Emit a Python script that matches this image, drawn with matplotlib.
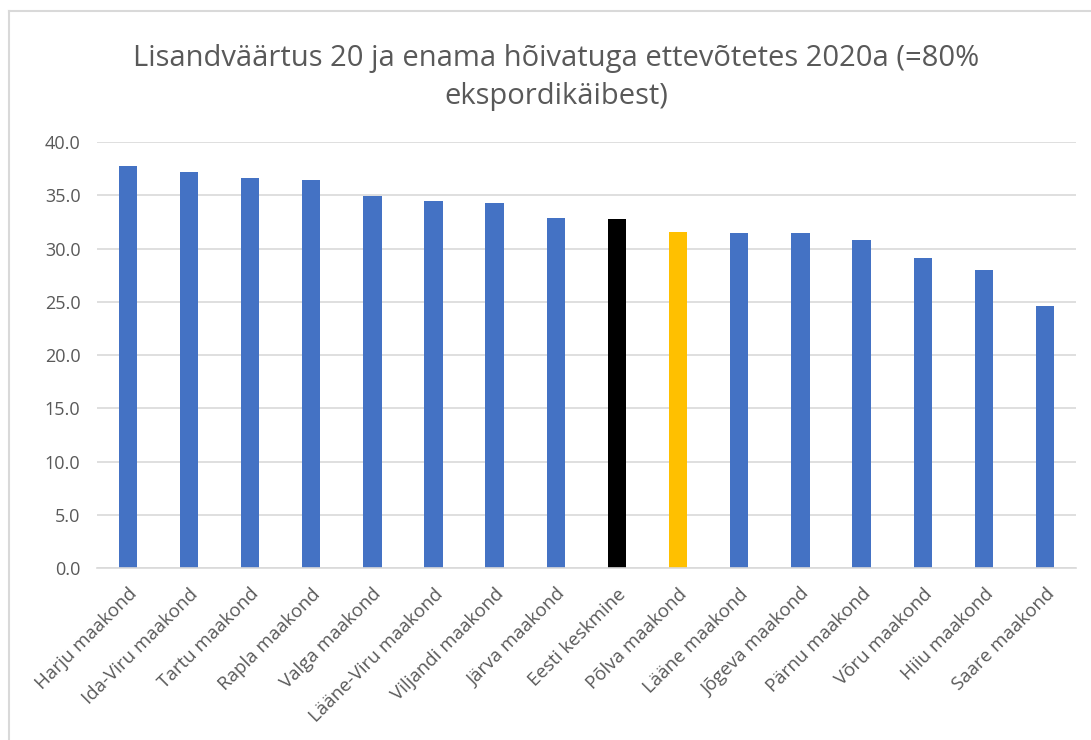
import matplotlib.pyplot as plt
from matplotlib.lines import Line2D

# andmed
maakonnad = ['Harju maakond', 'Ida-Viru maakond', 'Tartu maakond', 'Rapla maakond',
             'Valga maakond', 'Lääne-Viru maakond', 'Viljandi maakond', 'Järva maakond',
             'Eesti keskmine', 'Põlva maakond', 'Lääne maakond', 'Jõgeva maakond',
             'Pärnu maakond', 'Võru maakond', 'Hiiu maakond', 'Saare maakond']
vaartused = [37.8, 37.2, 36.6, 36.4, 34.9, 34.5, 34.3, 32.9,
             32.8, 31.6, 31.5, 31.5, 30.8, 29.1, 28.0, 24.6]
erivarvid = {'Eesti keskmine': '#000000', 'Põlva maakond': '#FFC000'}
y_ticks = [0, 5, 10, 15, 20, 25, 30, 35, 40]

plt.rcParams['font.family'] = ['Open Sans', 'DejaVu Sans']
tekst = '#595959'

fig = plt.figure(figsize=(10.91, 7.40), dpi=100)
ax = fig.add_axes([0.089, 0.232, 0.897, 0.576])

varvid = [erivarvid.get(m, '#4472C4') for m in maakonnad]
ax.bar(range(len(maakonnad)), vaartused, width=0.3, color=varvid, zorder=3)

ax.set_ylim(0, 40)
ax.set_xlim(-0.5, len(maakonnad) - 0.5)
ax.set_yticks(y_ticks)
ax.set_yticklabels([f'{v:.1f}' for v in y_ticks], fontsize=13, color=tekst)
ax.set_xticks(range(len(maakonnad)))
ax.set_xticklabels(maakonnad, rotation=45, ha='right', rotation_mode='anchor',
                   fontsize=13.5, color=tekst)
ax.tick_params(axis='y', length=0, pad=12)
ax.tick_params(axis='x', length=0, pad=12)
ax.grid(axis='y', color='#D9D9D9', linewidth=1.2, zorder=0)
for s in ['top', 'right', 'left']:
    ax.spines[s].set_visible(False)
ax.spines['bottom'].set_color('#D9D9D9')
ax.spines['bottom'].set_linewidth(1.2)
ax.spines['bottom'].set_zorder(4)

fig.text(0.51, 0.921, 'Lisandväärtus 20 ja enama hõivatuga ettevõtetes 2020a (=80%',
         ha='center', va='center', fontsize=21, color=tekst)
fig.text(0.51, 0.870, 'ekspordikäibest)', ha='center', va='center', fontsize=21, color=tekst)

# raam
fig.add_artist(Line2D([0.008, 1.0], [0.985, 0.985], transform=fig.transFigure,
                      color='#D9D9D9', linewidth=1.5))
fig.add_artist(Line2D([0.008, 0.008], [0.0, 0.985], transform=fig.transFigure,
                      color='#D9D9D9', linewidth=1.5))

fig.savefig('out.png', dpi=100)
